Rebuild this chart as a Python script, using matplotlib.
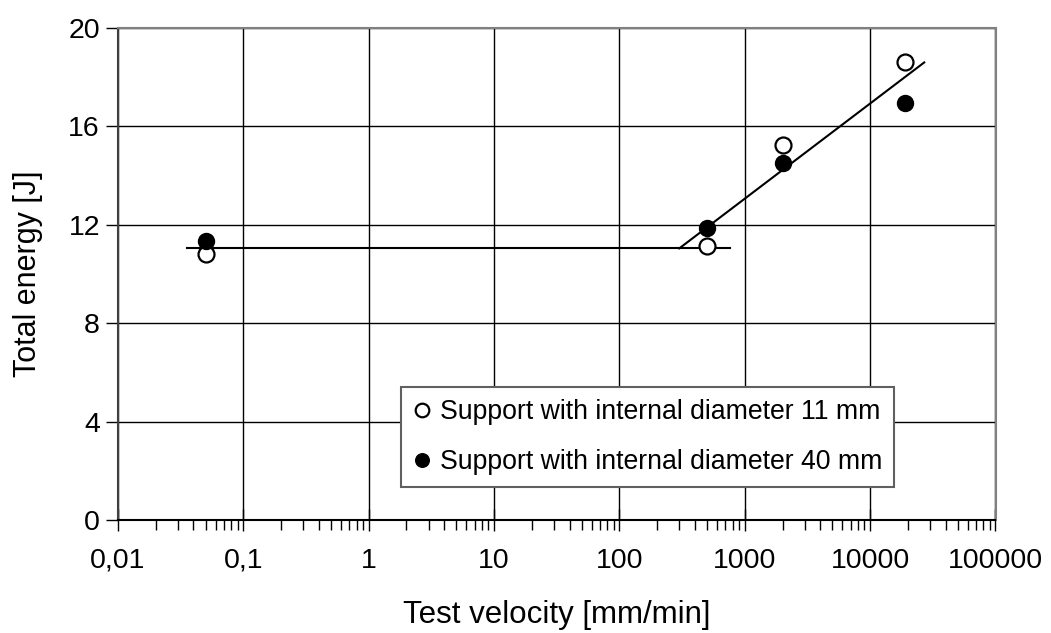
import numpy as np
import matplotlib.pyplot as plt
from matplotlib.ticker import FixedLocator, LogLocator, NullFormatter

plt.rcParams["font.family"] = ["Liberation Sans", "DejaVu Sans"]
plt.rcParams["font.size"] = 20.5

# measured points
velocity = [0.05, 500, 2000, 19000]
energy_11mm = [10.8, 11.15, 15.25, 18.63]
energy_40mm = [11.35, 11.85, 14.5, 16.95]

# trend lines (plateau + rising branch)
plateau_x = [0.0357, 766]
plateau_y = [11.05, 11.05]
rise_x = [300, 27000]
rise_y = [11.04, 18.6]

xticks = [0.01, 0.1, 1, 10, 100, 1000, 10000, 100000]
xticklabels = ["0,01", "0,1", "1", "10", "100", "1000", "10000", "100000"]
yticks = [0, 4, 8, 12, 16, 20]

fig = plt.figure(figsize=(10.51, 6.33), dpi=100)
ax = fig.add_axes([118 / 1051, 1 - 520 / 633, (995.5 - 118) / 1051, (520 - 28) / 633])

ax.plot(plateau_x, plateau_y, color="black", lw=1.5, zorder=3)
ax.plot(rise_x, rise_y, color="black", lw=1.5, zorder=3)

ax.plot(velocity, energy_11mm, "o", ms=11.5, mfc="white", mec="black", mew=1.6,
        ls="none", zorder=4, label="Support with internal diameter 11 mm")
ax.plot(velocity, energy_40mm, "o", ms=11.5, mfc="black", mec="black",
        ls="none", zorder=4, label="Support with internal diameter 40 mm")

ax.set_xscale("log")
ax.set_xlim(0.01, 100000)
ax.set_ylim(0, 20)
ax.xaxis.set_major_locator(FixedLocator(xticks))
ax.set_xticklabels(xticklabels)
ax.xaxis.set_minor_locator(LogLocator(base=10, subs=np.arange(2, 10), numticks=20))
ax.xaxis.set_minor_formatter(NullFormatter())
ax.set_yticks(yticks)

ax.grid(True, which="major", color="black", lw=1.0)
ax.set_axisbelow(True)
for s in ax.spines.values():
    s.set_color("#808080")
    s.set_linewidth(1.5)
ax.spines["bottom"].set_color("black")
ax.spines["left"].set_color("#404040")

ax.tick_params(axis="x", which="major", direction="inout", length=16, width=1.0, pad=12)
ax.tick_params(axis="x", which="minor", direction="out", length=7, width=1.0)
ax.tick_params(axis="y", which="major", direction="out", length=9, width=1.0, pad=4)

ax.set_xlabel("Test velocity [mm/min]", fontsize=22.5, labelpad=19)
ax.set_ylabel("Total energy [J]", fontsize=22, labelpad=18)

leg = ax.legend(loc="lower left", bbox_to_anchor=((401 - 118) / 877.5, (520 - 487) / 492),
                frameon=True, fancybox=False, handletextpad=0.3, handlelength=0.7,
                borderpad=0.45, labelspacing=0.9, borderaxespad=0, fontsize=19.2,
                markerscale=0.85)
leg.get_frame().set_edgecolor("#606060")
leg.get_frame().set_linewidth(1.5)
leg.get_frame().set_alpha(1)

fig.savefig("out.png", dpi=100)
